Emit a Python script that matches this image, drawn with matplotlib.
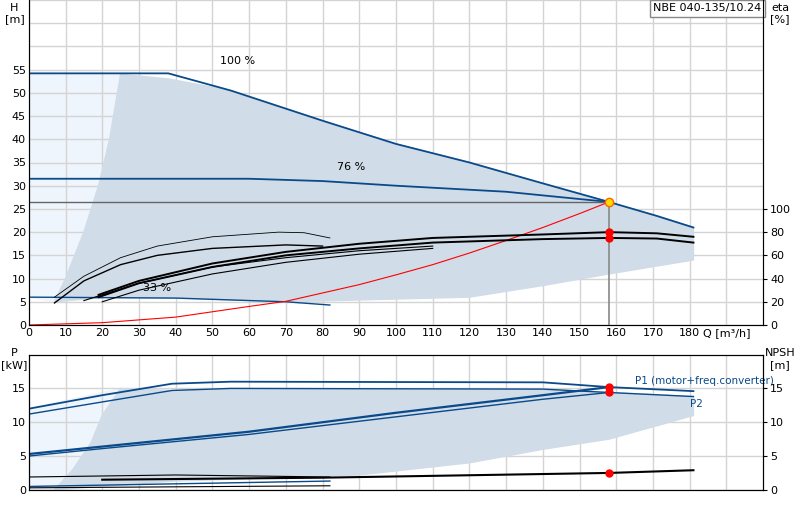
import matplotlib
matplotlib.use("Agg")
import matplotlib.pyplot as plt

# ---- data ----
q100 = [0, 38, 55, 80, 100, 120, 140, 158, 171, 181]
h100 = [54.2, 54.2, 50.5, 44, 39, 35, 30.5, 26.5, 23.5, 21]
q76 = [0, 60, 80, 100, 130, 158]
h76 = [31.5, 31.5, 31, 30, 28.7, 26.5]
q33 = [0, 40, 70, 82]
h33 = [6, 5.8, 5, 4.3]
q_left = [7, 10, 15, 19, 22, 25]
h_left = [5, 10, 20, 30, 40, 54]
q_low = [82, 120, 140, 158, 181]
h_low = [4.3, 6, 8.5, 11, 14]
q_sys = [0, 20, 40, 60, 70, 80, 90, 100, 110, 120, 130, 140, 150, 158]
h_sys = [0, 0.5, 1.7, 4, 5.1, 6.9, 8.7, 10.8, 13, 15.5, 18.2, 21, 24, 26.5]
# efficiency curves in eta % (right axis)
qe1 = [19, 30, 50, 70, 90, 110, 140, 158, 171, 181]
e1 = [26, 38, 53, 63, 70, 75, 78, 80, 79, 76]
qe2 = [19, 30, 50, 70, 90, 110, 140, 158, 171, 181]
e2 = [24, 36, 50, 60, 66, 71, 74, 75, 74.5, 71]
qe3 = [7, 15, 25, 35, 50, 68, 75, 82]
e3 = [24, 42, 58, 68, 76, 80, 79.5, 75]
qe4 = [7, 15, 25, 35, 50, 70, 80]
e4 = [19, 38, 52, 60, 66, 69, 68]
qe5 = [15, 30, 50, 70, 90, 110]
e5 = [21, 36, 50, 58, 64, 68]
qe6 = [20, 30, 50, 70, 90, 110]
e6 = [20, 30, 44, 54, 61, 66]
q_op, h_op, eta_op = 158, 26.5, [80, 75]
# power
qp = [0, 20, 39, 55, 140, 158, 181]
p1_top = [12, 14, 15.7, 16, 15.9, 15.2, 14.6]
p2_top = [11.2, 13, 14.7, 15, 14.9, 14.4, 13.8]
qpl = [0, 20, 60, 100, 140, 158]
p1_low = [5.3, 6.4, 8.6, 11.4, 14, 15.2]
p2_low = [5, 6.1, 8.2, 10.8, 13.4, 14.4]
qp_left = [7, 12, 17, 20, 25]
pp_left = [0, 3, 7, 11, 15]
qp_low = [7, 40, 90, 120, 140, 158, 181]
pp_low = [0, 1.3, 2.2, 4, 6, 7.5, 11]
qn1 = [20, 80, 158, 181]
n1 = [1.5, 1.8, 2.5, 2.9]
qn2 = [0, 40, 82]
n2 = [1.9, 2.2, 1.9]
qn3 = [0, 82]
n3 = [0.5, 1.3]
qn4 = [0, 82]
n4 = [0.3, 0.6]
q_np, p_op, n_op = 158, [15.2, 14.4], 2.5

blue = "#0a4a8a"
dark = "#d0dce8"
light = "#eef5fc"
grid = "#d4d4d4"

fig = plt.figure(figsize=(8, 5.2), dpi=100)
ax = fig.add_axes([0.036, 0.375, 0.918, 0.625])
ax.set_xlim(0, 200); ax.set_ylim(0, 70)
ax.set_xticks(range(0, 200, 10))
ax.set_xticklabels([str(v) for v in range(0, 190, 10)] + ["Q [m³/h]"], fontsize=8)
ax.set_yticks(range(0, 75, 5))
ax.set_yticklabels([str(v) if v <= 55 else "" for v in range(0, 75, 5)], fontsize=8)
ax.grid(True, color=grid, lw=1); ax.set_axisbelow(True)
ax.tick_params(length=0, pad=2)
ax.spines["top"].set_visible(False)
for s in ["left", "right", "bottom"]:
    ax.spines[s].set_color("#555555")

ax.fill([0, 0] + q_left[::-1], [6, 54.2] + h_left[::-1], color=light, zorder=0.5)
xs = q_left + [38, 55, 80, 100, 120, 140, 158, 171, 181] + q_low[::-1][:-1] + [70, 40, 20]
ys = h_left + [53, 50.5, 44, 39, 35, 30.5, 26.5, 23.5, 21] + h_low[::-1][:-1] + [5, 5.8, 5.9]
ax.fill(xs, ys, color=dark, zorder=0.6)

ax.plot(q100, h100, color=blue, lw=1.3)
ax.plot(q76, h76, color=blue, lw=1.3)
ax.plot(q33, h33, color=blue, lw=1.0)
ax.plot(q_sys, h_sys, color="red", lw=0.8)
ax.plot([0, q_op], [h_op, h_op], color="#666666", lw=1)
ax.plot([q_op, q_op], [0, h_op], color="#888888", lw=1.2)

sc = 0.25
for qq, ee, lw in [(qe1, e1, 1.4), (qe2, e2, 1.4), (qe3, e3, 0.6), (qe4, e4, 1.0), (qe5, e5, 0.8), (qe6, e6, 0.8)]:
    ax.plot(qq, [e * sc for e in ee], color="black", lw=lw)
ax.plot([q_op] * 2, [e * sc for e in eta_op], "o", color="red", ms=5)
ax.plot(q_op, h_op, "o", color="#ffdd00", mec="#ff6600", ms=6, zorder=5)

ax.text(52, 56.3, "100 %", fontsize=8)
ax.text(84, 33.3, "76 %", fontsize=8)
ax.text(31, 7.3, "33 %", fontsize=8)
ax.text(0.998, 0.99, "NBE 040-135/10.24", transform=ax.transAxes, ha="right", va="top", fontsize=8,
        bbox=dict(boxstyle="square,pad=0.3", fc="white", ec="#888888"))
fig.text(0.018, 0.995, "H\n[m]", ha="center", va="top", fontsize=8)
fig.text(0.975, 0.995, "eta\n[%]", ha="center", va="top", fontsize=8)

ax2 = ax.twinx()
ax2.set_ylim(0, 280)
ax2.set_yticks(range(0, 120, 20))
ax2.tick_params(labelsize=8, length=3, pad=2)
ax2.spines["top"].set_visible(False)

bx = fig.add_axes([0.036, 0.058, 0.918, 0.26])
bx.set_xlim(0, 200); bx.set_ylim(0, 20)
bx.set_xticks(range(0, 200, 10)); bx.set_xticklabels([])
bx.set_yticks([0, 5, 10, 15]); bx.set_yticklabels(["0", "5", "10", "15"], fontsize=8)
bx.grid(True, color=grid, lw=1); bx.set_axisbelow(True)
bx.tick_params(length=0, pad=2)
bx.fill([0, 0] + qp_left[::-1], [0, 12] + pp_left[::-1], color=light, zorder=0.5)
bx.fill(qp_left + [39, 55, 140, 158, 181] + qp_low[::-1][:-1],
        pp_left + [14.7, 15, 14.9, 14.4, 13.8] + pp_low[::-1][:-1], color=dark, zorder=0.6)
bx.plot(qp, p1_top, color=blue, lw=1.3)
bx.plot(qp, p2_top, color=blue, lw=1.0)
bx.plot(qpl, p1_low, color=blue, lw=1.6)
bx.plot(qpl, p2_low, color=blue, lw=1.0)
bx.plot(qn1, n1, color="black", lw=1.5)
bx.plot(qn2, n2, color="black", lw=0.8)
bx.plot(qn3, n3, color=blue, lw=1.0)
bx.plot(qn4, n4, color="black", lw=0.8)
bx.plot([q_np] * 2, p_op, "o", color="red", ms=5)
bx.plot(q_np, n_op, "o", color="red", ms=5)
bx.text(165, 15.6, "P1 (motor+freq.converter)", color=blue, fontsize=7.5)
bx.text(180, 12.3, "P2", color=blue, fontsize=7.5)
fig.text(0.018, 0.33, "P\n[kW]", ha="center", va="top", fontsize=8)
fig.text(0.975, 0.33, "NPSH\n[m]", ha="center", va="top", fontsize=8)
bx2 = bx.twinx(); bx2.set_ylim(0, 20)
bx2.set_yticks([0, 5, 10, 15]); bx2.tick_params(labelsize=8, length=3, pad=2)

fig.savefig("out.png", dpi=100)
